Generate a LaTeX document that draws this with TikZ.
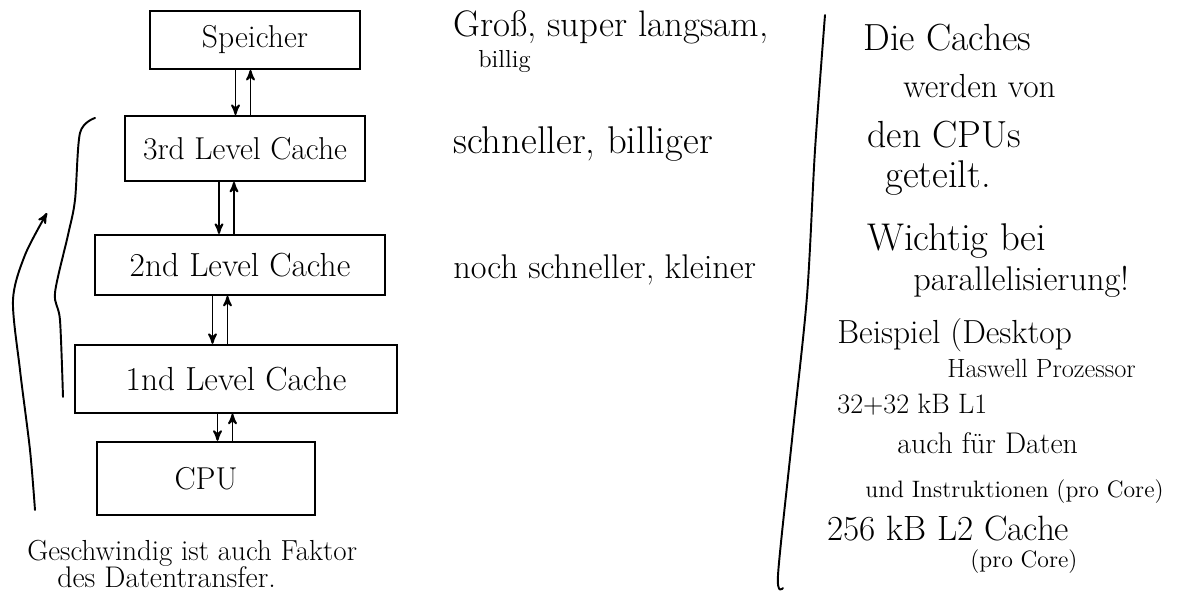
\documentclass[tikz,border=0pt]{standalone}
\usepackage{tikz}
\usetikzlibrary{positioning,arrows}

\tikzset{
  cachebox/.style={draw, line width=1.1pt, inner sep=0pt, font=\fontsize{18}{20}\selectfont},
  scribble/.style={anchor=base west, inner sep=0pt, font=\fontsize{#1}{#1}\selectfont},
  scribble/.default=20,
  stroke/.style={line width=1.1pt, line cap=round, line join=round}
}

\begin{document}
\begin{tikzpicture}[>=stealth',node distance=1cm]
	\useasboundingbox (0,0) rectangle (23.56,-11.92);

	% Hierarchie
	\node[cachebox,minimum width=4.2cm,minimum height=1.16cm] (mem) at (5.1,-0.8) {Speicher};
	\node[cachebox,minimum width=4.8cm,minimum height=1.3cm] (l3) [below=0.9cm of mem,xshift=-0.2cm] {3rd Level Cache};
	\node[cachebox,minimum width=5.8cm,minimum height=1.2cm,font=\fontsize{19}{21}\selectfont] (l2) [below=1.04cm of l3,xshift=-0.1cm] {2nd Level Cache};
	\node[cachebox,minimum width=6.44cm,minimum height=1.36cm,font=\fontsize{19}{21}\selectfont] (l1) [below=0.96cm of l2,xshift=-0.08cm] {1nd Level Cache};
	\node[cachebox,minimum width=4.36cm,minimum height=1.46cm] (cpu) [below=0.54cm of l1,xshift=-0.6cm] {CPU};

	\foreach \a/\b/\x in {mem/l3/4.86, l3/l2/4.53, l2/l1/4.4, l1/cpu/4.5}{
		\coordinate (dn) at (\x-0.15,0);
		\coordinate (up) at (\x+0.15,0);
		\draw[stroke,->] (\a.south -| dn) -- (\b.north -| dn);
		\draw[stroke,->] (\b.north -| up) -- (\a.south -| up);
	}

	% Klammer und Pfeil links
	\coordinate (brtop) at (1.9,-2.36);
	\coordinate (brbot) at (1.26,-7.94);
	\draw[stroke] plot[smooth] coordinates {(brtop) (1.6,-2.66) (1.5,-4.0) (1.36,-4.7) (1.1,-5.86) (1.2,-6.4) (brbot)};
	\coordinate (fast) at (0.7,-10.2);
	\coordinate (slow) at (0.94,-4.26);
	\draw[stroke,->] plot[smooth] coordinates {(fast) (0.6,-9.0) (0.4,-7.4) (0.26,-6.0) (0.5,-5.1) (slow)};

	\node[scribble=16.5] (speed) at (0.54,-11.2) {Geschwindig ist auch Faktor};
	\node[scribble=17] (speed2) at (1.14,-11.74) {des Datentransfer.};

	% Eigenschaften
	\node[scribble=21] (p1) at (9.06,-0.72) {Groß, super langsam,};
	\node[scribble=14] (p1b) at (9.56,-1.34) {billig};
	\node[scribble=22] (p2) at (9.06,-3.06) {schneller, billiger};
	\node[scribble=19.5] (p3) at (9.06,-5.56) {noch schneller, kleiner};

	% Trennlinie
	\coordinate (sep1) at (16.5,-0.3);
	\coordinate (sep2) at (15.66,-11.76);
	\draw[stroke] plot[smooth] coordinates {(sep1) (16.3,-3.0) (16.14,-5.92) (15.85,-8.7) (15.56,-11.5) (sep2)};

	% Notizen rechts
	\node[scribble=21.5] (n1) at (17.26,-1.0) {Die Caches};
	\node[scribble=19] (n2) at (18.06,-1.94) {werden von};
	\node[scribble=21.5] (n3) at (17.34,-2.94) {den CPUs};
	\node[scribble=22] (n4) at (17.7,-3.74) {geteilt.};
	\node[scribble=22] (n5) at (17.34,-5.0) {Wichtig bei};
	\node[scribble=19.5] (n6) at (18.26,-5.8) {parallelisierung!};
	\node[scribble=19] (n7) at (16.74,-6.86) {Beispiel (Desktop};
	\node[scribble=15] (n8) at (18.94,-7.54) {Haswell Prozessor};
	\node[scribble=16] (n9) at (16.74,-8.26) {32+32 kB L1};
	\node[scribble=17] (n10) at (17.94,-9.06) {auch für Daten};
	\node[scribble=13.5] (n11) at (17.3,-9.94) {und Instruktionen (pro Core)};
	\node[scribble=20] (n12) at (16.54,-10.8) {256 kB L2 Cache};
	\node[scribble=13.5] (n13) at (19.4,-11.34) {(pro Core)};
\end{tikzpicture}
\end{document}
